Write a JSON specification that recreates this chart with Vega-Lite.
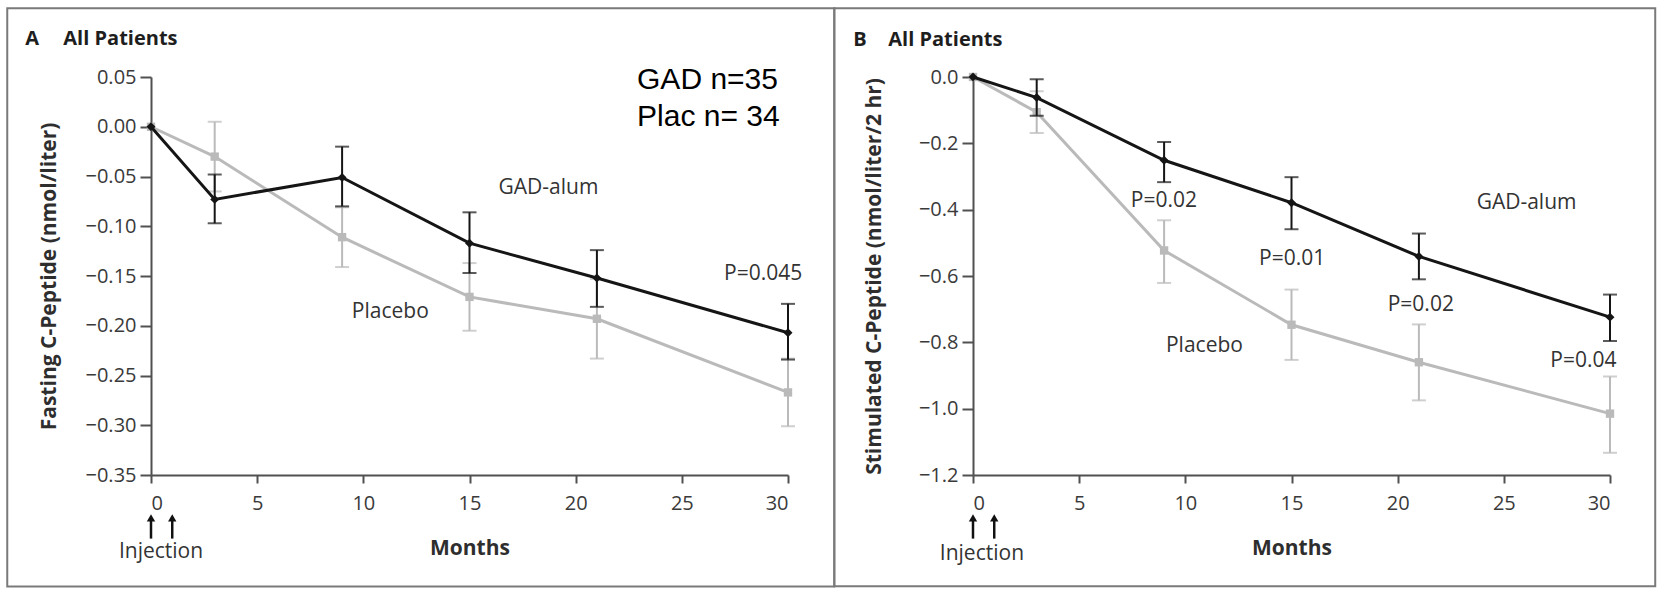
{
  "$schema": "https://vega.github.io/schema/vega-lite/v6.json",
  "background": "white",
  "padding": {"left": 6, "top": 7, "right": 0, "bottom": 0},
  "config": {
    "font": "Open Sans",
    "view": {"stroke": null},
    "axis": {
      "grid": false,
      "domainColor": "#505050",
      "domainWidth": 2,
      "tickColor": "#505050",
      "tickWidth": 2,
      "labelColor": "#3a3a3a",
      "labelFont": "Open Sans",
      "labelFontSize": 20,
      "titleColor": "#2e2e2e",
      "titleFont": "Open Sans",
      "titleFontSize": 21,
      "titleFontWeight": "bold"
    },
    "axisX": {"tickSize": 8, "labelPadding": 10},
    "axisY": {"tickSize": 11, "labelPadding": 4},
    "text": {"font": "Open Sans", "fontSize": 21, "color": "#333333"}
  },
  "datasets": {
    "fasting": [
      {"group": "Placebo", "month": 0, "mean": 0},
      {"group": "Placebo", "month": 3, "mean": -0.030, "lo": -0.065, "hi": 0.005},
      {"group": "Placebo", "month": 9, "mean": -0.111, "lo": -0.141, "hi": -0.081},
      {"group": "Placebo", "month": 15, "mean": -0.171, "lo": -0.205, "hi": -0.137},
      {"group": "Placebo", "month": 21, "mean": -0.193, "lo": -0.233, "hi": -0.153},
      {"group": "Placebo", "month": 30, "mean": -0.267, "lo": -0.301, "hi": -0.233},
      {"group": "GAD-alum", "month": 0, "mean": 0},
      {"group": "GAD-alum", "month": 3, "mean": -0.073, "lo": -0.097, "hi": -0.048},
      {"group": "GAD-alum", "month": 9, "mean": -0.051, "lo": -0.080, "hi": -0.020},
      {"group": "GAD-alum", "month": 15, "mean": -0.117, "lo": -0.147, "hi": -0.086},
      {"group": "GAD-alum", "month": 21, "mean": -0.152, "lo": -0.181, "hi": -0.124},
      {"group": "GAD-alum", "month": 30, "mean": -0.207, "lo": -0.234, "hi": -0.178}
    ],
    "stimulated": [
      {"group": "Placebo", "month": 0, "mean": 0},
      {"group": "Placebo", "month": 3, "mean": -0.106, "lo": -0.169, "hi": -0.043},
      {"group": "Placebo", "month": 9, "mean": -0.523, "lo": -0.621, "hi": -0.432},
      {"group": "Placebo", "month": 15, "mean": -0.747, "lo": -0.853, "hi": -0.641},
      {"group": "Placebo", "month": 21, "mean": -0.860, "lo": -0.975, "hi": -0.746},
      {"group": "Placebo", "month": 30, "mean": -1.015, "lo": -1.133, "hi": -0.903},
      {"group": "GAD-alum", "month": 0, "mean": 0},
      {"group": "GAD-alum", "month": 3, "mean": -0.062, "lo": -0.117, "hi": -0.007},
      {"group": "GAD-alum", "month": 9, "mean": -0.251, "lo": -0.317, "hi": -0.196},
      {"group": "GAD-alum", "month": 15, "mean": -0.379, "lo": -0.459, "hi": -0.302},
      {"group": "GAD-alum", "month": 21, "mean": -0.541, "lo": -0.610, "hi": -0.472},
      {"group": "GAD-alum", "month": 30, "mean": -0.724, "lo": -0.796, "hi": -0.656}
    ],
    "injections": [{"month": 0}, {"month": 1}]
  },
  "bounds": "flush",
  "spacing": 185,
  "hconcat": [
    {
      "width": 637,
      "height": 398,
      "data": {"name": "fasting"},
      "layer": [
        {
          "data": {"values": [{}]},
          "mark": {"type": "rect", "fill": "white", "fillOpacity": 0, "stroke": "#7a7a7a", "strokeWidth": 2},
          "encoding": {
            "x": {"datum": -6.77, "type": "quantitative"},
            "x2": {"datum": 32.18},
            "y": {"datum": 0.119, "type": "quantitative"},
            "y2": {"datum": -0.462}
          }
        },
        {
          "transform": [{"filter": "datum.group === 'Placebo' && isValid(datum.lo)"}],
          "mark": {"type": "errorbar", "color": "#bababa", "thickness": 2, "ticks": {"size": 14, "thickness": 2, "color": "#bababa"}},
          "encoding": {
            "x": {"field": "month", "type": "quantitative", "title": "Months"},
            "y": {"field": "lo", "type": "quantitative", "title": "Fasting C-Peptide (nmol/liter)"},
            "y2": {"field": "hi"}
          }
        },
        {
          "transform": [{"filter": "datum.group === 'Placebo'"}],
          "mark": {"type": "line", "color": "#bababa", "strokeWidth": 3},
          "encoding": {
            "x": {
              "field": "month", "type": "quantitative",
              "scale": {"domain": [0, 30], "nice": false, "zero": false},
              "axis": {"values": [0, 5, 10, 15, 20, 25, 30], "title": "Months", "titleX": 318.5, "titleY": 79, "titleBaseline": "alphabetic"}
            },
            "y": {
              "field": "mean", "type": "quantitative",
              "scale": {"domain": [-0.35, 0.05], "nice": false, "zero": false},
              "axis": {"values": [0.05, 0, -0.05, -0.1, -0.15, -0.2, -0.25, -0.3, -0.35], "format": ".2f", "title": "Fasting C-Peptide (nmol/liter)", "titleX": -96, "titleY": 199, "titleBaseline": "alphabetic"}
            }
          }
        },
        {
          "transform": [{"filter": "datum.group === 'Placebo'"}],
          "mark": {"type": "point", "shape": "square", "filled": true, "size": 70, "color": "#bababa", "opacity": 1},
          "encoding": {
            "x": {"field": "month", "type": "quantitative"},
            "y": {"field": "mean", "type": "quantitative"}
          }
        },
        {
          "transform": [{"filter": "datum.group === 'GAD-alum' && isValid(datum.lo)"}],
          "mark": {"type": "errorbar", "color": "#151515", "thickness": 2, "ticks": {"size": 14, "thickness": 2, "color": "#151515"}},
          "encoding": {
            "x": {"field": "month", "type": "quantitative", "title": "Months"},
            "y": {"field": "lo", "type": "quantitative", "title": "Fasting C-Peptide (nmol/liter)"},
            "y2": {"field": "hi"}
          }
        },
        {
          "transform": [{"filter": "datum.group === 'GAD-alum'"}],
          "mark": {"type": "line", "color": "#151515", "strokeWidth": 3},
          "encoding": {
            "x": {"field": "month", "type": "quantitative"},
            "y": {"field": "mean", "type": "quantitative"}
          }
        },
        {
          "transform": [{"filter": "datum.group === 'GAD-alum'"}],
          "mark": {"type": "point", "shape": "diamond", "filled": true, "size": 80, "color": "#151515", "opacity": 1},
          "encoding": {
            "x": {"field": "month", "type": "quantitative"},
            "y": {"field": "mean", "type": "quantitative"}
          }
        },
        {
          "data": {"name": "injections"},
          "mark": {"type": "rule", "color": "#111111", "strokeWidth": 2.5},
          "encoding": {
            "x": {"field": "month", "type": "quantitative"},
            "y": {"datum": -0.4139, "type": "quantitative"},
            "y2": {"datum": -0.3945}
          }
        },
        {
          "data": {"name": "injections"},
          "mark": {"type": "point", "shape": "triangle-up", "filled": true, "size": 70, "color": "#111111", "opacity": 1},
          "encoding": {
            "x": {"field": "month", "type": "quantitative"},
            "y": {"datum": -0.393, "type": "quantitative"}
          }
        },
        {
          "data": {"values": [{}]},
          "mark": {"type": "text", "text": "Injection", "align": "center", "baseline": "alphabetic"},
          "encoding": {
            "x": {"datum": 0.47, "type": "quantitative"},
            "y": {"datum": -0.433, "type": "quantitative"}
          }
        },
        {
          "data": {"values": [{}]},
          "mark": {"type": "text", "text": "A", "align": "left", "baseline": "alphabetic", "fontSize": 20, "fontWeight": "bold", "color": "#1e1e1e"},
          "encoding": {
            "x": {"datum": -5.92, "type": "quantitative"},
            "y": {"datum": 0.0819, "type": "quantitative"}
          }
        },
        {
          "data": {"values": [{}]},
          "mark": {"type": "text", "text": "All Patients", "align": "left", "baseline": "alphabetic", "fontSize": 20, "fontWeight": "bold", "color": "#1e1e1e"},
          "encoding": {
            "x": {"datum": -4.13, "type": "quantitative"},
            "y": {"datum": 0.0819, "type": "quantitative"}
          }
        },
        {
          "data": {"values": [{}]},
          "mark": {"type": "text", "text": ["GAD n=35", "Plac n= 34"], "align": "left", "baseline": "alphabetic", "font": "Liberation Sans", "fontSize": 30, "lineHeight": 37.7, "color": "#000000"},
          "encoding": {
            "x": {"datum": 22.89, "type": "quantitative"},
            "y": {"datum": 0.0383, "type": "quantitative"}
          }
        },
        {
          "data": {"values": [{}]},
          "mark": {"type": "text", "text": "GAD-alum", "align": "center", "baseline": "alphabetic"},
          "encoding": {
            "x": {"datum": 18.72, "type": "quantitative"},
            "y": {"datum": -0.0672, "type": "quantitative"}
          }
        },
        {
          "data": {"values": [{}]},
          "mark": {"type": "text", "text": "Placebo", "align": "center", "baseline": "alphabetic"},
          "encoding": {
            "x": {"datum": 11.27, "type": "quantitative"},
            "y": {"datum": -0.1918, "type": "quantitative"}
          }
        },
        {
          "data": {"values": [{}]},
          "mark": {"type": "text", "text": "P=0.045", "align": "center", "baseline": "alphabetic"},
          "encoding": {
            "x": {"datum": 28.83, "type": "quantitative"},
            "y": {"datum": -0.1543, "type": "quantitative"}
          }
        }
      ]
    },
    {
      "width": 637,
      "height": 398,
      "data": {"name": "stimulated"},
      "layer": [
        {
          "data": {"values": [{}]},
          "mark": {"type": "rect", "fill": "white", "fillOpacity": 0, "stroke": "#7a7a7a", "strokeWidth": 2},
          "encoding": {
            "x": {"datum": -6.53, "type": "quantitative"},
            "x2": {"datum": 32.13},
            "y": {"datum": 0.2071, "type": "quantitative"},
            "y2": {"datum": -1.5356}
          }
        },
        {
          "transform": [{"filter": "datum.group === 'Placebo' && isValid(datum.lo)"}],
          "mark": {"type": "errorbar", "color": "#bababa", "thickness": 2, "ticks": {"size": 14, "thickness": 2, "color": "#bababa"}},
          "encoding": {
            "x": {"field": "month", "type": "quantitative", "title": "Months"},
            "y": {"field": "lo", "type": "quantitative", "title": "Stimulated C-Peptide (nmol/liter/2 hr)"},
            "y2": {"field": "hi"}
          }
        },
        {
          "transform": [{"filter": "datum.group === 'Placebo'"}],
          "mark": {"type": "line", "color": "#bababa", "strokeWidth": 3},
          "encoding": {
            "x": {
              "field": "month", "type": "quantitative",
              "scale": {"domain": [0, 30], "nice": false, "zero": false},
              "axis": {"values": [0, 5, 10, 15, 20, 25, 30], "title": "Months", "titleX": 318.5, "titleY": 79, "titleBaseline": "alphabetic"}
            },
            "y": {
              "field": "mean", "type": "quantitative",
              "scale": {"domain": [-1.2, 0], "nice": false, "zero": false},
              "axis": {"values": [0, -0.2, -0.4, -0.6, -0.8, -1.0, -1.2], "format": ".1f", "title": "Stimulated C-Peptide (nmol/liter/2 hr)", "titleX": -93, "titleY": 199, "titleBaseline": "alphabetic"}
            }
          }
        },
        {
          "transform": [{"filter": "datum.group === 'Placebo'"}],
          "mark": {"type": "point", "shape": "square", "filled": true, "size": 70, "color": "#bababa", "opacity": 1},
          "encoding": {
            "x": {"field": "month", "type": "quantitative"},
            "y": {"field": "mean", "type": "quantitative"}
          }
        },
        {
          "transform": [{"filter": "datum.group === 'GAD-alum' && isValid(datum.lo)"}],
          "mark": {"type": "errorbar", "color": "#151515", "thickness": 2, "ticks": {"size": 14, "thickness": 2, "color": "#151515"}},
          "encoding": {
            "x": {"field": "month", "type": "quantitative", "title": "Months"},
            "y": {"field": "lo", "type": "quantitative", "title": "Stimulated C-Peptide (nmol/liter/2 hr)"},
            "y2": {"field": "hi"}
          }
        },
        {
          "transform": [{"filter": "datum.group === 'GAD-alum'"}],
          "mark": {"type": "line", "color": "#151515", "strokeWidth": 3},
          "encoding": {
            "x": {"field": "month", "type": "quantitative"},
            "y": {"field": "mean", "type": "quantitative"}
          }
        },
        {
          "transform": [{"filter": "datum.group === 'GAD-alum'"}],
          "mark": {"type": "point", "shape": "diamond", "filled": true, "size": 80, "color": "#151515", "opacity": 1},
          "encoding": {
            "x": {"field": "month", "type": "quantitative"},
            "y": {"field": "mean", "type": "quantitative"}
          }
        },
        {
          "data": {"name": "injections"},
          "mark": {"type": "rule", "color": "#111111", "strokeWidth": 2.5},
          "encoding": {
            "x": {"field": "month", "type": "quantitative"},
            "y": {"datum": -1.3918, "type": "quantitative"},
            "y2": {"datum": -1.3336}
          }
        },
        {
          "data": {"name": "injections"},
          "mark": {"type": "point", "shape": "triangle-up", "filled": true, "size": 70, "color": "#111111", "opacity": 1},
          "encoding": {
            "x": {"field": "month", "type": "quantitative"},
            "y": {"datum": -1.329, "type": "quantitative"}
          }
        },
        {
          "data": {"values": [{}]},
          "mark": {"type": "text", "text": "Injection", "align": "center", "baseline": "alphabetic"},
          "encoding": {
            "x": {"datum": 0.42, "type": "quantitative"},
            "y": {"datum": -1.455, "type": "quantitative"}
          }
        },
        {
          "data": {"values": [{}]},
          "mark": {"type": "text", "text": "B", "align": "left", "baseline": "alphabetic", "fontSize": 20, "fontWeight": "bold", "color": "#1e1e1e"},
          "encoding": {
            "x": {"datum": -5.64, "type": "quantitative"},
            "y": {"datum": 0.0935, "type": "quantitative"}
          }
        },
        {
          "data": {"values": [{}]},
          "mark": {"type": "text", "text": "All Patients", "align": "left", "baseline": "alphabetic", "fontSize": 20, "fontWeight": "bold", "color": "#1e1e1e"},
          "encoding": {
            "x": {"datum": -3.99, "type": "quantitative"},
            "y": {"datum": 0.0935, "type": "quantitative"}
          }
        },
        {
          "data": {"values": [{}]},
          "mark": {"type": "text", "text": "P=0.02", "align": "center", "baseline": "alphabetic"},
          "encoding": {
            "x": {"datum": 8.99, "type": "quantitative"},
            "y": {"datum": -0.392, "type": "quantitative"}
          }
        },
        {
          "data": {"values": [{}]},
          "mark": {"type": "text", "text": "P=0.01", "align": "center", "baseline": "alphabetic"},
          "encoding": {
            "x": {"datum": 15.03, "type": "quantitative"},
            "y": {"datum": -0.566, "type": "quantitative"}
          }
        },
        {
          "data": {"values": [{}]},
          "mark": {"type": "text", "text": "P=0.02", "align": "center", "baseline": "alphabetic"},
          "encoding": {
            "x": {"datum": 21.09, "type": "quantitative"},
            "y": {"datum": -0.706, "type": "quantitative"}
          }
        },
        {
          "data": {"values": [{}]},
          "mark": {"type": "text", "text": "P=0.04", "align": "center", "baseline": "alphabetic"},
          "encoding": {
            "x": {"datum": 28.75, "type": "quantitative"},
            "y": {"datum": -0.873, "type": "quantitative"}
          }
        },
        {
          "data": {"values": [{}]},
          "mark": {"type": "text", "text": "GAD-alum", "align": "center", "baseline": "alphabetic"},
          "encoding": {
            "x": {"datum": 26.07, "type": "quantitative"},
            "y": {"datum": -0.399, "type": "quantitative"}
          }
        },
        {
          "data": {"values": [{}]},
          "mark": {"type": "text", "text": "Placebo", "align": "center", "baseline": "alphabetic"},
          "encoding": {
            "x": {"datum": 10.9, "type": "quantitative"},
            "y": {"datum": -0.83, "type": "quantitative"}
          }
        }
      ]
    }
  ]
}
